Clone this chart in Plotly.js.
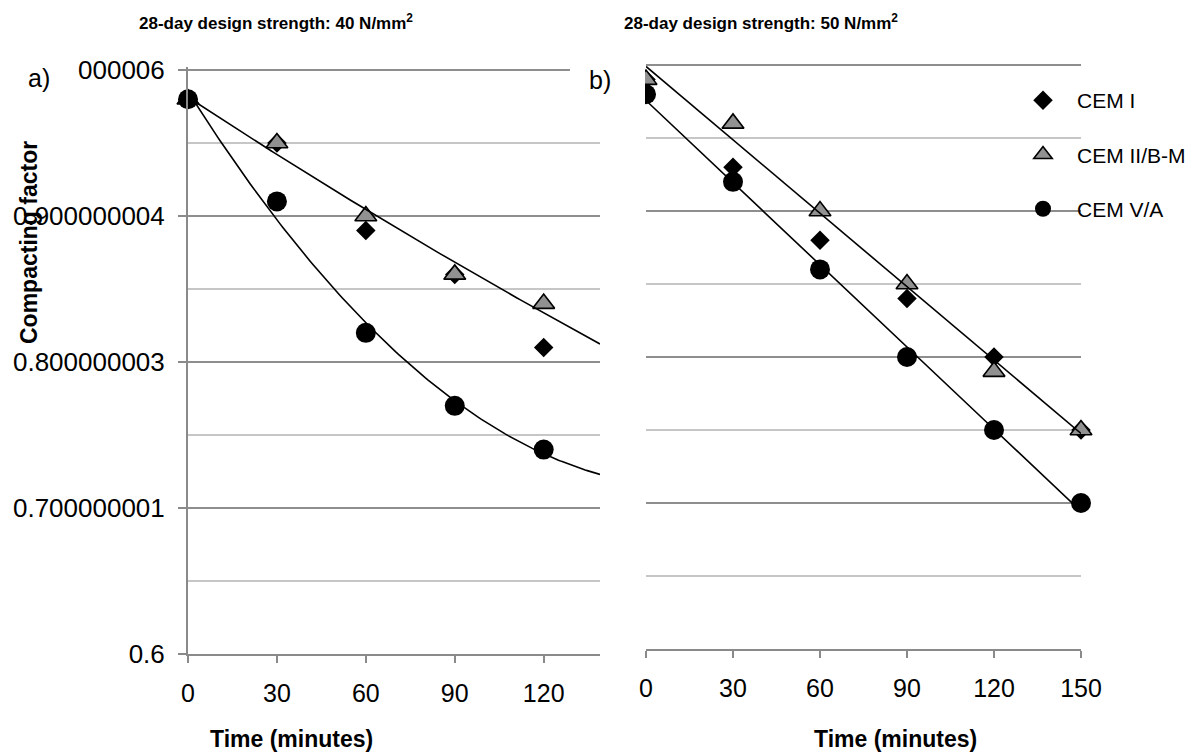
<!DOCTYPE html>
<html>
<head>
<meta charset="utf-8">
<script src="https://cdn.plot.ly/plotly-3.0.1.min.js"></script>
<style>
  html, body { margin: 0; padding: 0; background: #ffffff; }
  #chart { width: 1193px; height: 753px; }
</style>
</head>
<body>
<div id="chart"></div>
<script>
// Compacting factor vs. time, two mixes (40 and 50 N/mm2 design strength)
var timeA = [0, 30, 60, 90, 120];
var cemI_A = [0.98, 0.95, 0.89, 0.86, 0.81];
var cemII_A = [0.98, 0.95, 0.90, 0.86, 0.84];
var cemV_A = [0.98, 0.91, 0.82, 0.77, 0.74];

var timeB = [0, 30, 60, 90, 120, 150];
var cemI_B = [0.99, 0.93, 0.88, 0.84, 0.80, 0.75];
var cemII_B = [0.99, 0.96, 0.90, 0.85, 0.79, 0.75];
var cemV_B = [0.98, 0.92, 0.86, 0.80, 0.75, 0.70];

var seriesNames = ['CEM I', 'CEM II/B-M', 'CEM V/A'];
var yTickVals = [0.6, 0.7, 0.8, 0.9, 1.0];
// the top label runs off the left edge of the figure, only its tail shows
var yTickText = ['0.6', '0.700000001', '0.800000003', '0.900000004', '000006'];
var yMinorVals = [0.65, 0.75, 0.85, 0.95];
var xTicksA = [0, 30, 60, 90, 120];
var xTicksB = [0, 30, 60, 90, 120, 150];
var titleA = '<b>28-day design strength: 40 N/mm<sup>2</sup></b>';
var titleB = '<b>28-day design strength: 50 N/mm<sup>2</sup></b>';
var xTitle = '<b>Time (minutes)</b>';
var yTitle = '<b>Compacting factor</b>';

var xMaxA = 139, xMaxB = 150;
var W = 1193, H = 753;

// least-squares polynomial fit (normal equations)
function polyfit(xs, ys, deg) {
  var n = deg + 1, A = [], b = [];
  for (var i = 0; i < n; i++) {
    A.push([]);
    for (var j = 0; j < n; j++) {
      var s = 0;
      for (var k = 0; k < xs.length; k++) s += Math.pow(xs[k], i + j);
      A[i].push(s);
    }
    var t = 0;
    for (var k2 = 0; k2 < xs.length; k2++) t += ys[k2] * Math.pow(xs[k2], i);
    b.push(t);
  }
  for (var c = 0; c < n; c++) {
    var p = c;
    for (var r = c + 1; r < n; r++) if (Math.abs(A[r][c]) > Math.abs(A[p][c])) p = r;
    var tmp = A[c]; A[c] = A[p]; A[p] = tmp;
    var tb = b[c]; b[c] = b[p]; b[p] = tb;
    for (var r2 = c + 1; r2 < n; r2++) {
      var f = A[r2][c] / A[c][c];
      for (var cc = c; cc < n; cc++) A[r2][cc] -= f * A[c][cc];
      b[r2] -= f * b[c];
    }
  }
  var coef = new Array(n);
  for (var r3 = n - 1; r3 >= 0; r3--) {
    var s2 = b[r3];
    for (var c2 = r3 + 1; c2 < n; c2++) s2 -= A[r3][c2] * coef[c2];
    coef[r3] = s2 / A[r3][r3];
  }
  return function (x) {
    var v = 0;
    for (var i = 0; i < n; i++) v += coef[i] * Math.pow(x, i);
    return v;
  };
}

// exponential trend y = a*exp(b*x), fitted on ln(y)
function expfit(xs, ys) {
  var lin = polyfit(xs, ys.map(Math.log), 1);
  return function (x) { return Math.exp(lin(x)); };
}

function trend(fn, xmax, xa, ya) {
  var xs = [], ys = [];
  for (var x = 0; x <= xmax; x += 1) { xs.push(x); ys.push(fn(x)); }
  return {
    x: xs, y: ys, xaxis: xa, yaxis: ya, type: 'scatter', mode: 'lines',
    line: { color: '#000000', width: 1.6 }, showlegend: false, hoverinfo: 'skip',
    cliponaxis: true
  };
}

var styles = [
  { symbol: 'diamond', size: 15, color: '#000000', line: { color: '#000000', width: 0 } },
  { symbol: 'triangle-up', size: 19, color: '#919191', line: { color: '#000000', width: 1.6 } },
  { symbol: 'circle', size: 20, color: '#000000', line: { color: '#000000', width: 0 } }
];

function markers(xs, ys, idx, xa, ya, legend) {
  return {
    x: xs, y: ys, xaxis: xa, yaxis: ya, type: 'scatter', mode: 'markers',
    name: seriesNames[idx], legendgroup: 'g' + idx, showlegend: legend,
    marker: styles[idx], cliponaxis: false
  };
}

var traces = [
  markers(timeA, cemI_A, 0, 'x', 'y', false),
  markers(timeA, cemII_A, 1, 'x', 'y', false),
  markers(timeA, cemV_A, 2, 'x', 'y', false),
  markers(timeB, cemI_B, 0, 'x2', 'y2', true),
  markers(timeB, cemII_B, 1, 'x2', 'y2', true),
  markers(timeB, cemV_B, 2, 'x2', 'y2', true),
  trend(expfit(timeA, cemII_A), xMaxA, 'x', 'y'),
  trend(polyfit(timeA, cemV_A, 2), xMaxA, 'x', 'y'),
  trend(polyfit(timeB, cemII_B, 1), xMaxB, 'x2', 'y2'),
  trend(polyfit(timeB, cemV_B, 1), xMaxB, 'x2', 'y2')
];

var FONT = 'Liberation Sans, Arial, Helvetica, sans-serif';
var AXC = '#8a8a8a';
var MAJ = '#8e8e8e';
var MIN = '#c6c6c6';

function px(x) { return x / W; }
function py(y) { return 1 - y / H; }

var minorGrid = {
  tickmode: 'array', tickvals: yMinorVals, showgrid: true,
  gridcolor: MIN, gridwidth: 1.5, ticks: ''
};

var layout = {
  width: W, height: H,
  margin: { l: 0, r: 0, t: 0, b: 0 },
  paper_bgcolor: '#ffffff', plot_bgcolor: 'rgba(0,0,0,0)',
  font: { family: FONT, color: '#000000', size: 25 },
  showlegend: true,
  hovermode: false,
  xaxis: {
    domain: [px(188), px(600)], range: [0, xMaxA], anchor: 'y',
    showline: true, linecolor: AXC, linewidth: 2,
    ticks: 'outside', ticklen: 7, tickwidth: 2, tickcolor: AXC,
    tickmode: 'array', tickvals: xTicksA, showgrid: false, zeroline: false,
    ticklabelstandoff: 9,
    tickfont: { size: 25, color: '#000000' }
  },
  yaxis: {
    domain: [py(654), py(67.1)], range: [0.6, 1.002], anchor: 'x',
    showline: true, linecolor: AXC, linewidth: 2,
    ticks: 'outside', ticklen: 8, tickwidth: 2, tickcolor: AXC,
    tickmode: 'array', tickvals: yTickVals, ticktext: yTickText,
    showgrid: true, gridcolor: MAJ, gridwidth: 1.5, zeroline: false,
    minor: minorGrid, ticklabelstandoff: 8,
    tickfont: { size: 26, color: '#000000' }
  },
  xaxis2: {
    domain: [px(646), px(1081)], range: [0, xMaxB], anchor: 'y2',
    showline: true, linecolor: AXC, linewidth: 2,
    ticks: 'outside', ticklen: 7, tickwidth: 2, tickcolor: AXC,
    tickmode: 'array', tickvals: xTicksB, showgrid: false, zeroline: false,
    ticklabelstandoff: 9,
    tickfont: { size: 25, color: '#000000' }
  },
  yaxis2: {
    domain: [py(649), py(62.1)], range: [0.6, 1.002], anchor: 'x2',
    showline: false, showticklabels: false, ticks: '',
    tickmode: 'array', tickvals: yTickVals,
    showgrid: true, gridcolor: MAJ, gridwidth: 1.5, zeroline: false,
    minor: minorGrid
  },
  legend: {
    x: px(1009), xanchor: 'left', y: py(80), yanchor: 'top',
    font: { family: FONT, size: 21, color: '#000000' },
    itemwidth: 58, tracegroupgap: 24, traceorder: 'grouped',
    bgcolor: 'rgba(0,0,0,0)', borderwidth: 0
  },
  shapes: [
    // hides the part of the first markers that falls left of the second plot area
    { type: 'rect', xref: 'paper', yref: 'paper', layer: 'above',
      x0: px(616), x1: px(645), y0: py(115), y1: py(60),
      fillcolor: '#ffffff', line: { width: 0 } },
    // the first panel's top grid line stops short of the "b)" label
    { type: 'rect', xref: 'paper', yref: 'paper', layer: 'above',
      x0: px(570), x1: px(601), y0: py(76), y1: py(64),
      fillcolor: '#ffffff', line: { width: 0 } }
  ],
  annotations: [
    { text: titleA, xref: 'paper', yref: 'paper', x: px(137), y: py(22),
      xanchor: 'left', yanchor: 'middle', showarrow: false,
      font: { family: FONT, size: 17, color: '#000000' } },
    { text: titleB, xref: 'paper', yref: 'paper', x: px(622), y: py(22),
      xanchor: 'left', yanchor: 'middle', showarrow: false,
      font: { family: FONT, size: 17, color: '#000000' } },
    { text: 'a)', xref: 'paper', yref: 'paper', x: px(39), y: py(78),
      xanchor: 'center', yanchor: 'middle', showarrow: false,
      font: { family: FONT, size: 25, color: '#000000' } },
    { text: 'b)', xref: 'paper', yref: 'paper', x: px(600), y: py(80),
      xanchor: 'center', yanchor: 'middle', showarrow: false,
      font: { family: FONT, size: 25, color: '#000000' } },
    { text: xTitle, xref: 'paper', yref: 'paper', x: px(291), y: py(739),
      xanchor: 'center', yanchor: 'middle', showarrow: false,
      font: { family: FONT, size: 23, color: '#000000' } },
    { text: xTitle, xref: 'paper', yref: 'paper', x: px(895), y: py(739),
      xanchor: 'center', yanchor: 'middle', showarrow: false,
      font: { family: FONT, size: 23, color: '#000000' } },
    { text: yTitle, xref: 'paper', yref: 'paper', x: px(29), y: py(243),
      xanchor: 'center', yanchor: 'middle', showarrow: false, textangle: -90,
      font: { family: FONT, size: 23, color: '#000000' } }
  ]
};

Plotly.newPlot('chart', traces, layout, { displayModeBar: false, staticPlot: true });
</script>
</body>
</html>
